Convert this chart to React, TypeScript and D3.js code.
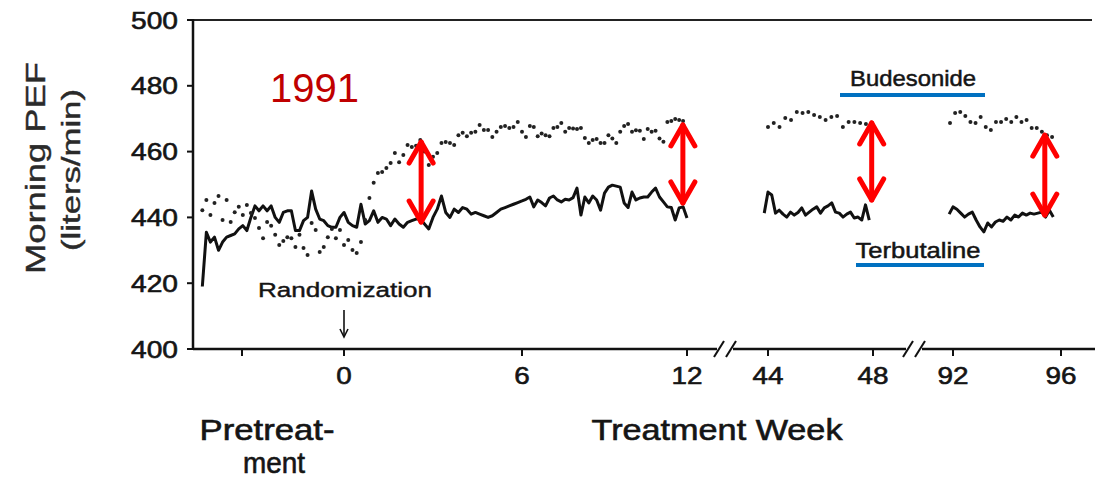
import React from "react";
import * as d3 from "d3";

// terbutaline (solid), daily means, pretreatment week -5 through week 12
const terbSeg1 = [
  419, 435.5, 432.5, 434, 430, 432.5, 434, 434.5, 435, 436.5, 437.5, 436, 440, 443.5, 442,
  443.5, 442, 443.5, 440, 438.5, 441.5, 442, 442, 436, 436, 439, 440, 448, 442.5, 439.5,
  439, 437.5, 437, 437, 440, 441.5,
  438.5, 437.5, 437, 444, 438, 439, 442, 438.5, 440, 439.5, 437.5, 439.5, 438, 437, 438.5,
  439, 439.5, 439.5, 438, 436.5, 440, 442.5, 446.5, 441.5, 440, 442.5, 441.5, 443, 442.5,
  441, 441.5, 441, 440.5, 440, 440.5, 441.5, 442.5, 443, 443.5, 444, 444.5, 445,
  445.5, 446.2, 443.2, 445.3, 444.5, 443.5, 445.9, 446.5, 445.3, 444.7, 445.5, 445.3, 446,
  448.9, 440.7, 446.2, 444.4, 446.5, 445.3, 442.2, 447.4, 449.2, 449.8, 449.5, 449.2, 444.4,
  443, 447.7, 445.3, 445.9, 446.2, 446.2, 447.7, 448.9, 446.2, 444.7, 443.2, 443, 439.2,
  442.9, 443.2, 439.8,
];
// budesonide (dots), same days
const budSeg1 = [
  442.2, 445.3, 440.7, 444.4, 446.5, 439.2, 445.3, 438.6, 441.6, 443.2, 440.7, 443.8, 441.3,
  439.8, 436.8, 433.7, 438.6, 437.5, 434.7, 431.6, 432.8, 434, 433.7, 431, 434.7, 430.7,
  428.6, 438.3, 436.2, 429.5, 431, 434, 436.5, 433.7, 436.2, 431.6,
  433.1, 430.1, 429.2, 432.5, 439.2, 445.9, 450.5, 453.5, 453.8, 455, 456.5, 459.6, 456.8,
  459, 462, 461.4, 461.8, 463.5, 460, 455.9, 458.4, 459.6, 462.6, 462.9, 462.6, 462, 465,
  465.7, 464.7, 465.7, 466, 468.1, 466.6, 466.6, 464.4, 466, 467.5, 467.8, 467.2, 467.5,
  469, 466,
  464.4, 467.8, 467.5, 464.7, 465.5, 465, 464.7, 467.2, 467.5, 468.7, 466, 467.2, 467, 466.9,
  467.2, 464.1, 462.6, 463.5, 463.8, 462.6, 462.6, 465, 464, 462.6, 466, 467.8, 468.4, 466,
  466.5, 466.3, 463.8, 466.9, 466, 466.3, 464, 463, 469, 469.3, 469.9, 469.6, 469.3,
];
// weeks 44-48
const terbSeg2 = [
  441.3, 447.7, 446.8, 441.3, 442.2, 441, 440.1, 441.6, 440.7, 441.5, 442.9, 440.7, 441.6,
  442.5, 443.2, 441.3, 442.9, 443.5, 444.4, 441.6, 441.3, 440.1, 441, 441.6, 439.8, 440.1,
  439.2, 443.8, 439.2,
];
const budSeg2 = [
  467.5, 468.7, 467.5, 470.2, 469.6, 472, 471.7, 472, 471.1, 470.5, 469.6, 470.5, 470.8,
  467.5, 469, 469, 468.7, 468.4,
];
// weeks 92-96
const terbSeg3 = [
  441, 443.2, 442.5, 441.3, 440.1, 441, 441.6, 439.2, 437.1, 435.6, 438.3, 437.1, 438.6,
  439.2, 438.8, 440.1, 439.2, 440.7, 440.1, 441.3, 440.7, 441.3, 441, 441.3, 441.6, 440.1,
  442.2, 440.1,
];
const budSeg3 = [
  468.7, 471.7, 472, 470.8, 469, 468.7, 470.5, 467.5, 466.6, 469, 469, 469.9, 469, 470.5,
  469, 469.6, 467.2, 467.2, 466, 465, 464.4,
];

const yTicks = [400, 420, 440, 460, 480, 500];
const xTicks = [
  { seg: 0, week: -3.6, label: "" },
  { seg: 0, week: 0, label: "0" },
  { seg: 0, week: 6, label: "6" },
  { seg: 0, week: 12, label: "12" },
  { seg: 1, week: 44, label: "44" },
  { seg: 1, week: 48, label: "48" },
  { seg: 2, week: 92, label: "92" },
  { seg: 2, week: 96, label: "96" },
];
// red difference arrows: segment, week, budesonide value, terbutaline value
const gapSeg = [0, 0, 1, 2];
const gapWeek = [2.6, 11.85, 47.95, 95.4];
const gapTop = [462.9, 468.1, 468.7, 465];
const gapBottom = [438.6, 444.4, 445.3, 440.7];

const W = 1095;
const H = 479;

const y = d3.scaleLinear().domain([400, 500]).range([349, 20]);
const xs = [
  d3.scaleLinear().domain([-3.6, 0, 6, 12]).range([242, 344, 522, 687]),
  d3.scaleLinear().domain([44, 48]).range([768, 873]),
  d3.scaleLinear().domain([92, 96]).range([953, 1061]),
];

const daily = (vals: number[], start: number, step = 1 / 7) =>
  vals.map((v, i) => [start + i * step, v] as [number, number]);

const terb = [
  daily(terbSeg1, -5),
  daily(terbSeg2, 43.857),
  daily(terbSeg3, 91.857),
];
const bud = [
  daily(budSeg1, -5),
  daily(budSeg2, 44, 3.73 / 17),
  daily(budSeg3, 91.89, 3.78 / 20),
];

const font = "'Liberation Sans', Arial, Helvetica, sans-serif";
const ink = "#151515";
const bold = { stroke: ink, strokeWidth: 0.6 };

const RedArrow = ({ x, y1, y2 }: { x: number; y1: number; y2: number }) => {
  const dx = 12;
  const dy = 21;
  return (
    <g stroke="#ff0000" strokeWidth={5} fill="none" strokeLinecap="round" strokeLinejoin="round">
      <line x1={x} y1={y1} x2={x} y2={y2} />
      <polyline points={`${x - dx},${y1 + dy} ${x},${y1} ${x + dx},${y1 + dy}`} />
      <polyline points={`${x - dx},${y2 - dy} ${x},${y2} ${x + dx},${y2 - dy}`} />
    </g>
  );
};

export default function App() {
  const axisY = y(400);
  const breaks = [725, 914];
  const axisParts = [
    [193, breaks[0] - 8],
    [breaks[0] + 8, breaks[1] - 8],
    [breaks[1] + 8, W],
  ];

  return (
    <svg
      width={W}
      height={H}
      style={{ position: "absolute", left: 0, top: 0, background: "#fff" }}
      fontFamily={font}
    >
      {/* frame */}
      <line x1={193} x2={1092} y1={20} y2={20} stroke="#222" strokeWidth={2} />
      <line x1={193} x2={193} y1={19} y2={axisY + 1} stroke="#111" strokeWidth={2.5} />
      {axisParts.map(([a, b], i) => (
        <line key={i} x1={a} x2={b} y1={axisY} y2={axisY} stroke="#111" strokeWidth={2.5} />
      ))}
      {breaks.map((bx) =>
        [-6, 6].map((o) => (
          <line
            key={`${bx}${o}`}
            x1={bx + o - 5}
            y1={axisY + 8}
            x2={bx + o + 5}
            y2={axisY - 8}
            stroke="#111"
            strokeWidth={2}
          />
        ))
      )}

      {/* y axis */}
      {yTicks.map((t) => (
        <g key={t}>
          <line x1={187} x2={193} y1={y(t)} y2={y(t)} stroke="#111" strokeWidth={2} />
          <text
            x={178}
            y={y(t) + 8.5}
            textAnchor="end"
            fontSize={24}
            fill={ink}
            {...bold}
            textLength={47}
            lengthAdjust="spacingAndGlyphs"
          >
            {t}
          </text>
        </g>
      ))}
      <text
        transform="translate(45,168) rotate(-90)"
        textAnchor="middle"
        fontSize={28}
        fill="#2a2a2a"
        stroke="#2a2a2a"
        strokeWidth={0.4}
        textLength={212}
        lengthAdjust="spacingAndGlyphs"
      >
        Morning PEF
      </text>
      <text
        transform="translate(80,170) rotate(-90)"
        textAnchor="middle"
        fontSize={25}
        fill="#2a2a2a"
        stroke="#2a2a2a"
        strokeWidth={0.4}
        textLength={162}
        lengthAdjust="spacingAndGlyphs"
      >
        (liters/min)
      </text>

      {/* x axis */}
      {xTicks.map((t, i) => {
        const px = xs[t.seg](t.week);
        return (
          <g key={i}>
            <line x1={px} x2={px} y1={axisY} y2={axisY + 7} stroke="#111" strokeWidth={2} />
            {t.label && (
              <text
                x={px}
                y={axisY + 35}
                textAnchor="middle"
                fontSize={24}
                fill={ink}
                {...bold}
                textLength={t.label.length * 15.5}
                lengthAdjust="spacingAndGlyphs"
              >
                {t.label}
              </text>
            )}
          </g>
        );
      })}
      <text x={267} y={440} textAnchor="middle" fontSize={29} fill={ink} {...bold} textLength={135} lengthAdjust="spacingAndGlyphs">
        Pretreat-
      </text>
      <text x={274} y={473} textAnchor="middle" fontSize={29} fill={ink} {...bold} textLength={62} lengthAdjust="spacingAndGlyphs">
        ment
      </text>
      <text x={717} y={440} textAnchor="middle" fontSize={29} fill={ink} {...bold} textLength={251} lengthAdjust="spacingAndGlyphs">
        Treatment Week
      </text>

      {/* randomization marker */}
      <text x={345} y={297} textAnchor="middle" fontSize={20} fill={ink} stroke={ink} strokeWidth={0.4} textLength={174} lengthAdjust="spacingAndGlyphs">
        Randomization
      </text>
      <line x1={xs[0](0)} x2={xs[0](0)} y1={310} y2={336} stroke="#111" strokeWidth={1.6} />
      <polyline
        points={`${xs[0](0) - 4},${329} ${xs[0](0)},${337} ${xs[0](0) + 4},${329}`}
        fill="none"
        stroke="#111"
        strokeWidth={1.6}
      />

      {/* series */}
      {terb.map((seg, i) => (
        <path
          key={i}
          d={
            d3
              .line<[number, number]>()
              .x((d) => xs[i](d[0]))
              .y((d) => y(d[1]))(seg) || ""
          }
          fill="none"
          stroke="#111"
          strokeWidth={3}
          strokeLinejoin="round"
        />
      ))}
      {bud.map((seg, i) =>
        seg.map((d, j) => (
          <circle key={`${i}-${j}`} cx={xs[i](d[0])} cy={y(d[1])} r={2} fill="#222" />
        ))
      )}

      {/* legend labels */}
      <text x={913} y={86} textAnchor="middle" fontSize={22} fill={ink} stroke={ink} strokeWidth={0.5} textLength={126} lengthAdjust="spacingAndGlyphs">
        Budesonide
      </text>
      <line x1={840} x2={985} y1={95} y2={95} stroke="#0070c0" strokeWidth={4} />
      <text x={918} y={258} textAnchor="middle" fontSize={22} fill={ink} stroke={ink} strokeWidth={0.5} textLength={125} lengthAdjust="spacingAndGlyphs">
        Terbutaline
      </text>
      <line x1={856} x2={984} y1={265} y2={265} stroke="#0070c0" strokeWidth={4} />

      {/* annotations */}
      <text x={270} y={102} fontSize={40} fill="#c00000" fontFamily="Arial, 'Liberation Sans', sans-serif">
        1991
      </text>
      {gapWeek.map((w, i) => (
        <RedArrow key={i} x={xs[gapSeg[i]](w)} y1={y(gapTop[i])} y2={y(gapBottom[i])} />
      ))}
    </svg>
  );
}
